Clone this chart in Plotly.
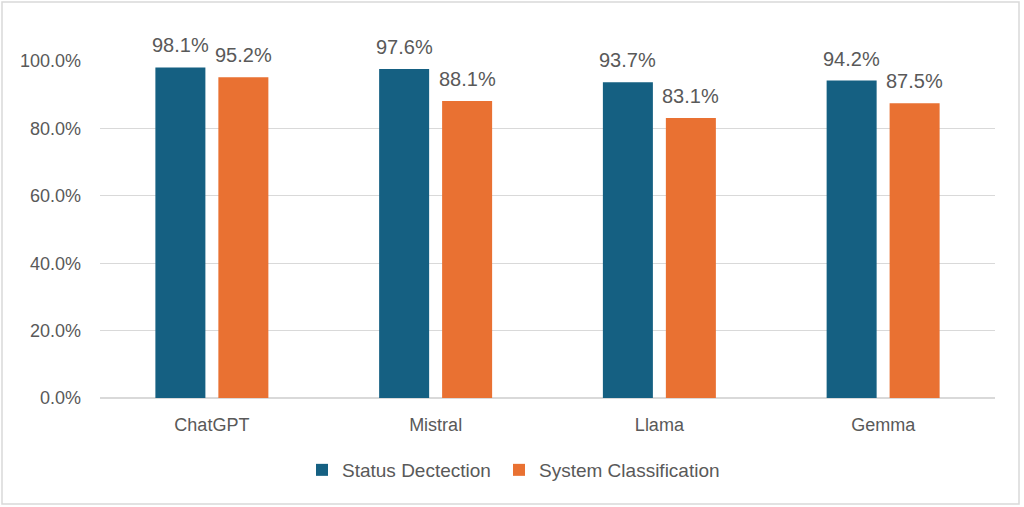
import plotly.graph_objects as go

categories = ["ChatGPT", "Mistral", "Llama", "Gemma"]
status_detection = [0.981, 0.976, 0.937, 0.942]
system_classification = [0.952, 0.881, 0.831, 0.875]
series_names = ["Status Dectection", "System Classification"]
tick_values = [0, 0.2, 0.4, 0.6, 0.8, 1.0]
tick_labels = ["0.0%", "20.0%", "40.0%", "60.0%", "80.0%", "100.0%"]

BLUE = "#156082"
ORANGE = "#E97132"
TEXT = "#595959"
GRID = "#D9D9D9"
FONT = "Liberation Sans, Arial, sans-serif"

W, H = 1024, 507
L, R, T, B = 100, 29, 61, 109
pw, ph = W - L - R, H - T - B
BAR_SHIFT = 31.5


def px_x(p):
    return (p - L) / pw


def px_y(p):
    return (H - B - p) / ph


fig = go.Figure()
series = [(series_names[0], status_detection, BLUE, -BAR_SHIFT, "legend"),
          (series_names[1], system_classification, ORANGE, BAR_SHIFT, "legend2")]
for name, vals, col, shift, lg in series:
    fig.add_trace(go.Bar(
        x=categories, y=vals, name=name, marker_color=col,
        marker_line_width=0, cliponaxis=False, legend=lg,
    ))
    for c, v in zip(categories, vals):
        fig.add_annotation(
            x=c, y=v, text=f"{v * 100:.1f}%", showarrow=False,
            xshift=shift, yshift=9, yanchor="bottom",
            font=dict(size=20, color=TEXT, family=FONT),
        )

fig.add_shape(type="rect", xref="paper", yref="paper",
              x0=px_x(2), x1=px_x(1019), y0=px_y(504), y1=px_y(2),
              line=dict(color=GRID, width=1.5), fillcolor="rgba(0,0,0,0)",
              layer="below")

legend_common = dict(orientation="h", yanchor="middle", y=px_y(470),
                     xanchor="left", itemwidth=30,
                     font=dict(size=19, color=TEXT, family=FONT),
                     bgcolor="rgba(0,0,0,0)")

fig.update_layout(
    width=W, height=H,
    margin=dict(l=L, r=R, t=T, b=B),
    paper_bgcolor="white", plot_bgcolor="white",
    barmode="group", bargap=0.437, bargroupgap=0.206,
    font=dict(family=FONT, color=TEXT, size=18),
    showlegend=True,
    legend=dict(x=px_x(302), **legend_common),
    legend2=dict(x=px_x(499), **legend_common),
    xaxis=dict(showgrid=False, showline=True, linecolor=GRID, linewidth=1,
               ticks="", tickfont=dict(size=18, color=TEXT), ticklabelstandoff=10),
    yaxis=dict(range=[0, 1.0], tickvals=tick_values, ticktext=tick_labels,
               showgrid=True, gridcolor=GRID, gridwidth=1,
               zeroline=True, zerolinecolor=GRID, showline=False,
               tickfont=dict(size=18, color=TEXT), ticklabelstandoff=18),
)

fig.write_html("out.html", config={"displayModeBar": False},
               post_script="document.body.style.margin='0px';")
